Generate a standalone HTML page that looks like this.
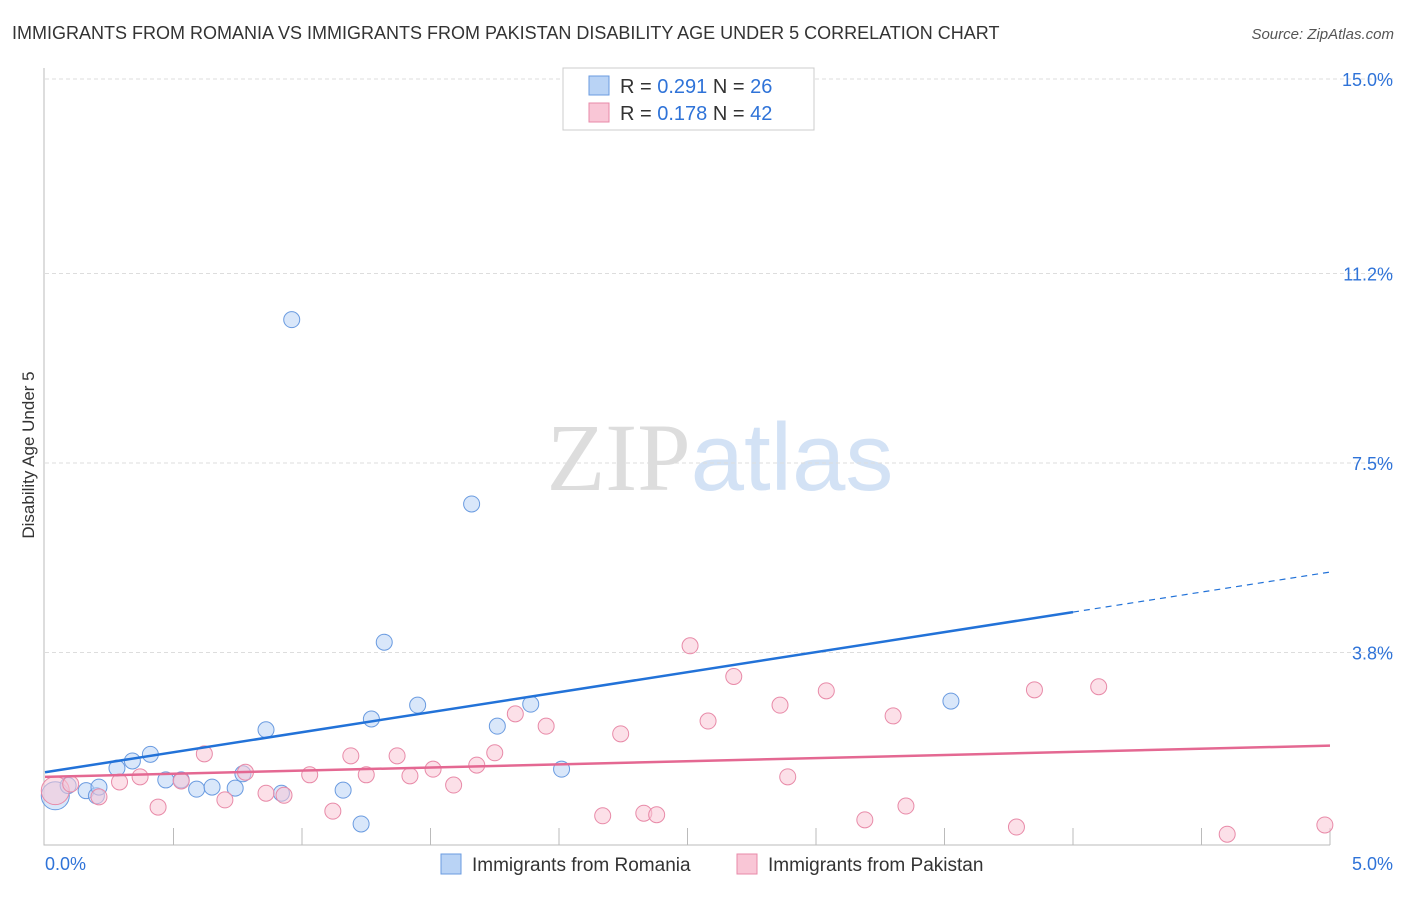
<!DOCTYPE html>
<html><head><meta charset="utf-8"><style>
body{margin:0;background:#fff;font-family:"Liberation Sans",sans-serif;}
svg text{font-family:"Liberation Sans",sans-serif;}
</style></head><body>
<svg id="chart" width="1406" height="892" xmlns="http://www.w3.org/2000/svg">
<text x="12" y="39" font-size="18" fill="#333">IMMIGRANTS FROM ROMANIA VS IMMIGRANTS FROM PAKISTAN DISABILITY AGE UNDER 5 CORRELATION CHART</text>
<text x="1394" y="39" font-size="15" fill="#555" text-anchor="end" font-style="italic">Source: ZipAtlas.com</text>
<text transform="translate(34,455) rotate(-90)" font-size="17" fill="#333" text-anchor="middle">Disability Age Under 5</text>
<text x="720" y="490" font-size="96" text-anchor="middle"><tspan fill="#ddd" font-family="Liberation Serif">ZIP</tspan><tspan fill="#d3e2f5">atlas</tspan></text>
<g id="grid"></g><g id="axes"></g><g id="points"></g><g id="trends"></g>
<g>
<rect x="563" y="68" width="251" height="62" fill="#fff" stroke="#ccc"/>
<rect x="589" y="76" width="20" height="19" fill="#b9d3f5" stroke="#6a9be0"/>
<rect x="589" y="103" width="20" height="19" fill="#f9c6d6" stroke="#e88aa8"/>
<text x="620" y="93" font-size="20" fill="#333">R = <tspan fill="#2f73d8">0.291</tspan>   N = <tspan fill="#2f73d8">26</tspan></text>
<text x="620" y="120" font-size="20" fill="#333">R = <tspan fill="#2f73d8">0.178</tspan>   N = <tspan fill="#2f73d8">42</tspan></text>
</g>
<g>
<rect x="441" y="854" width="20" height="20" fill="#b9d3f5" stroke="#6a9be0"/>
<text x="472" y="871" font-size="19" fill="#333">Immigrants from Romania</text>
<rect x="737" y="854" width="20" height="20" fill="#f9c6d6" stroke="#e88aa8"/>
<text x="768" y="871" font-size="19" fill="#333">Immigrants from Pakistan</text>
</g>
</svg>
<script>
const yTicks=[3.8,7.5,11.2,15.0];
const yTickLabels=["3.8%","7.5%","11.2%","15.0%"];
const xTicks=[0,0.5,1,1.5,2,2.5,3,3.5,4,4.5,5];
const romaniaX=[0.04,0.09,0.16,0.2,0.21,0.28,0.34,0.41,0.47,0.53,0.59,0.65,0.74,0.77,0.86,0.92,0.96,1.16,1.23,1.27,1.32,1.45,1.66,1.76,1.89,2.01,3.525];
const romaniaY=[1.0,1.2,1.1,1.0,1.17,1.54,1.68,1.81,1.31,1.31,1.13,1.17,1.15,1.43,2.29,1.05,10.3,1.11,0.45,2.5,4.0,2.77,6.7,2.36,2.79,1.52,2.85];
const pakistanX=[0.04,0.1,0.21,0.29,0.37,0.44,0.53,0.62,0.70,0.78,0.86,0.93,1.03,1.12,1.19,1.25,1.37,1.42,1.51,1.59,1.68,1.75,1.83,1.95,2.17,2.24,2.33,2.38,2.51,2.58,2.68,2.86,2.89,3.04,3.19,3.3,3.35,3.78,3.85,4.1,4.6,4.98];
const pakistanY=[1.1,1.23,0.98,1.27,1.37,0.78,1.29,1.82,0.92,1.46,1.05,1.01,1.41,0.70,1.78,1.41,1.78,1.39,1.52,1.21,1.6,1.84,2.6,2.36,0.61,2.21,0.66,0.63,3.93,2.46,3.33,2.77,1.37,3.05,0.53,2.56,0.8,0.39,3.07,3.13,0.25,0.43];
const trendX=[0,5];
const romaniaTrend=[1.46,5.37];
const pakistanTrend=[1.37,1.98];
const x0=45,x1=1330,yBase=847,ppu=51.2;
const sx=v=>x0+(x1-x0)*v/5;
const sy=v=>yBase-v*ppu;
const NS="http://www.w3.org/2000/svg";
function mk(tag,attrs,parent){const e=document.createElementNS(NS,tag);for(const k in attrs)e.setAttribute(k,attrs[k]);parent.appendChild(e);return e;}
const grid=document.getElementById('grid'),axes=document.getElementById('axes'),pts=document.getElementById('points'),tr=document.getElementById('trends');
yTicks.forEach((t,i)=>{
 const l=mk('line',{x1:45,x2:1394,y1:sy(t),y2:sy(t),stroke:'#ddd','stroke-dasharray':'4,3'},grid);
 
 
 const tx=mk('text',{x:1393,y:sy(t)+7,'font-size':18,fill:'#2f73d8','text-anchor':'end'},grid);
 tx.textContent=yTickLabels[i];
 
 
});
const ax=mk('path',{d:'M44,68 V845 H1330',fill:'none',stroke:'#bbb'},axes);


xTicks.forEach(t=>{
 if(t===0)return;
 const l=mk('line',{x1:sx(t),x2:sx(t),y1:828,y2:845,stroke:'#bbb'},axes);
 
 
});
const xl=mk('text',{x:45,y:870,'font-size':18,fill:'#2f73d8'},axes);xl.textContent='0.0%';


const xr=mk('text',{x:1393,y:870,'font-size':18,fill:'#2f73d8','text-anchor':'end'},axes);xr.textContent='5.0%';


function drawSeries(X,Y,fill,stroke,name){
 X.forEach((v,i)=>{
  const r=i===0?14:8;
  const c=mk('circle',{cx:sx(v),cy:sy(Y[i]),r:r,fill:fill,'fill-opacity':0.55,stroke:stroke,'stroke-width':1},pts);
  
  
 });
}
drawSeries(romaniaX,romaniaY,'#b9d3f5','#6a9be0','romania-point');
drawSeries(pakistanX,pakistanY,'#f9c6d6','#e88aa8','pakistan-point');
const bxm=4.0,bym=romaniaTrend[0]+(romaniaTrend[1]-romaniaTrend[0])*bxm/5;
const bl=mk('line',{x1:sx(trendX[0]),y1:sy(romaniaTrend[0]),x2:sx(bxm),y2:sy(bym),stroke:'#2272d8','stroke-width':2.5},tr);


const bd=mk('line',{x1:sx(bxm),y1:sy(bym),x2:sx(trendX[1]),y2:sy(romaniaTrend[1]),stroke:'#2272d8','stroke-width':1.2,'stroke-dasharray':'6,5'},tr);


const pl=mk('line',{x1:sx(trendX[0]),y1:sy(pakistanTrend[0]),x2:sx(trendX[1]),y2:sy(pakistanTrend[1]),stroke:'#e46892','stroke-width':2.5},tr);


</script>
</body></html>
